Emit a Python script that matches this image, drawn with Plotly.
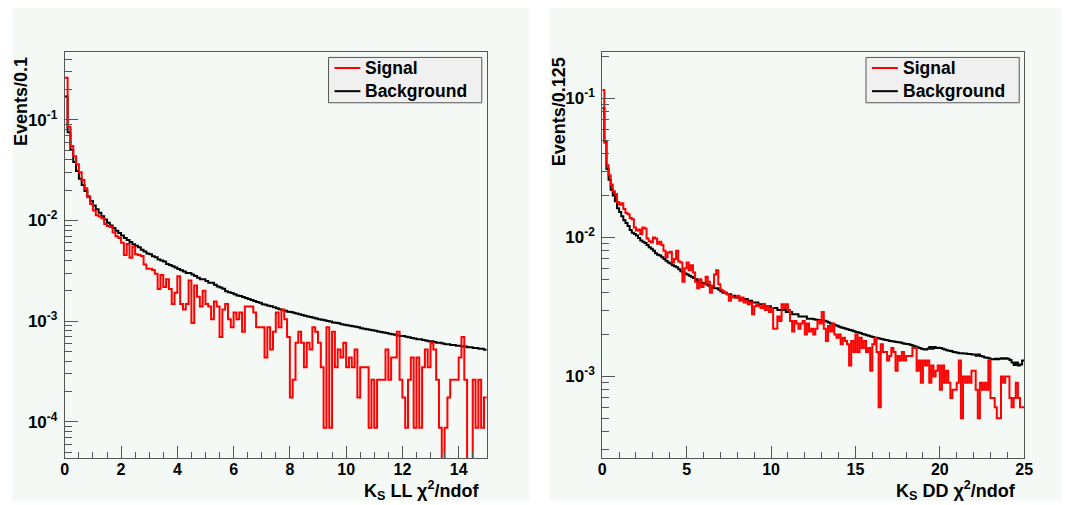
import plotly.graph_objects as go

# bin widths and per-event weights of the signal samples
LL_BIN = 0.1
DD_BIN = 0.125
LL_WEIGHT = 8.7e-5
DD_WEIGHT = 1.0e-4
FLOOR = 1e-7  # empty bins drop out of the log frame

# K_S LL chi2/ndof, 150 bins of 0.1
ll_signal_counts = [
    3000, 980, 630, 500, 415, 345, 290, 240, 195, 167,
    144, 129, 126, 121, 106, 101, 99, 87, 80, 77,
    69, 52, 67, 49, 63, 53, 52, 51, 42, 38,
    38, 37, 34, 24, 33, 25, 30, 24, 17, 22,
    32, 17, 15, 17, 29, 11, 26, 20, 16, 23,
    17, 16, 12, 18, 16, 8, 15, 17, 12, 10,
    14, 12, 14, 9, 16, 16, 16, 14, 10, 10,
    10, 5, 10, 6, 9, 14, 10, 15, 12, 8,
    2, 3, 7, 9, 7, 4, 7, 6, 10, 9,
    7, 4, 1, 10, 1, 9, 4, 6, 5, 7,
    4, 5, 4, 6, 2, 4, 4, 4, 1, 3,
    1, 3, 3, 3, 6, 3, 5, 5, 9, 3,
    2, 1, 3, 5, 1, 5, 1, 4, 6, 4,
    7, 6, 3, 1, 0, 1, 2, 3, 3, 3,
    5, 8, 3, 0, 0, 3, 1, 3, 1, 2,
]
ll_background = [
    0.17, 0.075, 0.050, 0.038, 0.031, 0.026, 0.0225, 0.0196, 0.0173, 0.0156,
    0.0141, 0.0129, 0.0119, 0.0110, 0.0102, 0.0095, 0.0089, 0.0084, 0.0079, 0.0075,
    0.0071, 0.0067, 0.0064, 0.0061, 0.0058, 0.0056, 0.0054, 0.0051, 0.0049, 0.0047,
    0.0046, 0.0044, 0.0043, 0.0041, 0.0040, 0.0039, 0.0037, 0.0036, 0.0035, 0.0034,
    0.0033, 0.0032, 0.0031, 0.0030, 0.0030, 0.0029, 0.0028, 0.0027, 0.0026, 0.0026,
    0.0025, 0.0024, 0.0024, 0.0023, 0.0022, 0.00215, 0.0021, 0.00198, 0.00193, 0.0019,
    0.00185, 0.0018, 0.00177, 0.00173, 0.0017, 0.00166, 0.00162, 0.00158, 0.00155, 0.00152,
    0.00147, 0.00145, 0.00142, 0.0014, 0.00137, 0.00134, 0.00131, 0.00129, 0.00127, 0.00124,
    0.00123, 0.00121, 0.00119, 0.00117, 0.00115, 0.00113, 0.00111, 0.0011, 0.00108, 0.00106,
    0.00104, 0.00103, 0.00102, 0.00100, 0.00099, 0.00097, 0.00096, 0.00095, 0.00093, 0.00092,
    0.00091, 0.0009, 0.00089, 0.00088, 0.00087, 0.00085, 0.00084, 0.00083, 0.00082, 0.00081,
    0.0008, 0.00079, 0.00078, 0.00077, 0.00076, 0.00075, 0.00074, 0.00073, 0.00072, 0.00071,
    0.00071, 0.0007, 0.00069, 0.00068, 0.00067, 0.00066, 0.00066, 0.00065, 0.00064, 0.00063,
    0.00063, 0.00062, 0.00061, 0.00061, 0.0006, 0.00059, 0.00059, 0.00058, 0.00058, 0.00057,
    0.00057, 0.00056, 0.00056, 0.00055, 0.00055, 0.00054, 0.00054, 0.00053, 0.00053, 0.00052,
]

# K_S DD chi2/ndof, 200 bins of 0.125
dd_signal_counts = [
    1150, 480, 330, 280, 240, 215, 205, 180, 172, 176,
    160, 150, 147, 138, 135, 118, 112, 114, 106, 118,
    116, 98, 94, 92, 100, 98, 90, 93, 88, 80,
    72, 78, 79, 66, 70, 80, 67, 66, 48, 60,
    66, 58, 63, 56, 48, 43, 50, 44, 46, 52,
    48, 40, 45, 54, 58, 46, 42, 41, 40, 39,
    35, 38, 37, 37, 38, 35, 37, 34, 35, 33,
    34, 28, 32, 33, 32, 31, 33, 30, 32, 29,
    31, 22, 22, 27, 25, 33, 31, 33, 30, 25,
    21, 25, 24, 22, 24, 25, 20, 24, 21, 22,
    20, 22, 25, 24, 29, 22, 18, 23, 21, 24,
    20, 19, 20, 17, 19, 18, 17, 12, 18, 15,
    20, 15, 19, 16, 18, 15, 16, 11, 17, 19,
    15, 6, 17, 15, 15, 13, 14, 16, 15, 11,
    14, 13, 15, 13, 14, 14, 14, 16, 16, 11,
    13, 9, 13, 12, 13, 9, 12, 10, 11, 12,
    8, 12, 9, 11, 9, 7, 8, 8, 9, 13,
    5, 10, 9, 10, 9, 11, 11, 8, 5, 9,
    8, 9, 8, 13, 7, 7, 6, 5, 5, 10,
    9, 10, 10, 7, 6, 7, 9, 7, 6, 6,
]
dd_background = [
    0.085, 0.049, 0.031, 0.026, 0.022, 0.020, 0.0182, 0.0162, 0.0152, 0.0142,
    0.0133, 0.0127, 0.0121, 0.0113, 0.0108, 0.0106, 0.0103, 0.0099, 0.0095, 0.0093,
    0.0091, 0.0088, 0.0085, 0.0083, 0.0080, 0.0077, 0.0075, 0.0074, 0.0072, 0.0070,
    0.0068, 0.0066, 0.0065, 0.0063, 0.0062, 0.0061, 0.0059, 0.0057, 0.0056, 0.0055,
    0.0054, 0.0053, 0.0052, 0.0051, 0.0050, 0.0049, 0.0048, 0.0047, 0.0047, 0.0046,
    0.0045, 0.0044, 0.0044, 0.0043, 0.0043, 0.0042, 0.0041, 0.0040, 0.0040, 0.0039,
    0.0039, 0.0038, 0.0038, 0.0037, 0.0037, 0.0036, 0.0036, 0.0036, 0.0036, 0.0035,
    0.0035, 0.0034, 0.0034, 0.0034, 0.0033, 0.0033, 0.0033, 0.0032, 0.0032, 0.0032,
    0.0031, 0.0031, 0.0031, 0.0030, 0.0030, 0.0030, 0.0030, 0.0029, 0.0029, 0.0029,
    0.0028, 0.0028, 0.0028, 0.0027, 0.0027, 0.0027, 0.0027, 0.0026, 0.0026, 0.0026,
    0.00258, 0.00256, 0.00255, 0.00253, 0.00252, 0.00251, 0.00248, 0.00244, 0.0024, 0.00237,
    0.00234, 0.00231, 0.00228, 0.00225, 0.00223, 0.0022, 0.00218, 0.00216, 0.00214, 0.00211,
    0.00209, 0.00207, 0.00205, 0.00202, 0.002, 0.00198, 0.00196, 0.00194, 0.00192, 0.0019,
    0.00189, 0.00187, 0.00186, 0.00184, 0.00183, 0.00182, 0.0018, 0.00179, 0.00178, 0.00177,
    0.00176, 0.00175, 0.00173, 0.00172, 0.00171, 0.0017, 0.00168, 0.00166, 0.00164, 0.00162,
    0.0016, 0.00158, 0.00157, 0.00156, 0.00158, 0.00163, 0.00158, 0.00163, 0.0016, 0.00161,
    0.0016, 0.00158, 0.00156, 0.00154, 0.00153, 0.00152, 0.0015, 0.00149, 0.00148, 0.00147,
    0.00147, 0.00146, 0.00146, 0.00145, 0.00145, 0.00144, 0.00144, 0.00141, 0.00144, 0.0014,
    0.00139, 0.00137, 0.00136, 0.00135, 0.00133, 0.00133, 0.00134, 0.00133, 0.00134, 0.00135,
    0.00134, 0.00135, 0.00134, 0.00131, 0.00126, 0.00121, 0.00126, 0.0012, 0.00122, 0.0013,
]

W, H = 1070, 505
OFF = 8                # page margin around the figure
SCALE = 1070 / 1078    # page is shrunk to fit the window
PAD = "#f5f9f6"
FRAME = "#555555"
FONT = "Liberation Sans, Arial, sans-serif"


def steps(values, width):
    edges = [round(i * width, 4) for i in range(len(values) + 1)]
    return edges, list(values) + [values[-1]]


def weighted(counts, weight):
    return [c * weight if c > 0 else FLOOR for c in counts]


# screen pixel -> paper fraction
def px(x):
    return (x / SCALE - OFF) / W


def py(y):
    return 1 - (y / SCALE - OFF) / H


fig = go.Figure()

panels = [
    dict(xa="x", ya="y", width=LL_BIN, sig=weighted(ll_signal_counts, LL_WEIGHT), bkg=ll_background),
    dict(xa="x2", ya="y2", width=DD_BIN, sig=weighted(dd_signal_counts, DD_WEIGHT), bkg=dd_background),
]
for p in panels:
    for vals, col in ((p["bkg"], "black"), (p["sig"], "#ff0000")):
        xs, ys = steps(vals, p["width"])
        fig.add_trace(go.Scatter(
            x=xs, y=ys, mode="lines", line=dict(color=col, width=2, shape="hv"),
            xaxis=p["xa"], yaxis=p["ya"], showlegend=False, hoverinfo="skip",
        ))

minor_log = [m * 10.0 ** e for e in range(-5, 1) for m in range(2, 10)]
tick_font = dict(family=FONT, size=16, color="black", weight="bold")
common_x = dict(
    showgrid=False, zeroline=False, showline=True, mirror=True,
    linecolor=FRAME, linewidth=1, ticks="inside", ticklen=12, tickwidth=1,
    tickcolor=FRAME, tickfont=tick_font, tick0=0, ticklabelstandoff=-4,
)
common_y = dict(
    type="log", showgrid=False, zeroline=False, showline=True, mirror=True,
    linecolor=FRAME, linewidth=1, ticks="inside", ticklen=13, tickwidth=1,
    tickcolor=FRAME, tickfont=dict(tick_font, size=17), tickmode="array",
    tickvals=[1e-4, 1e-3, 1e-2, 1e-1],
    ticktext=["10<sup>-4</sup>", "10<sup>-3</sup>", "10<sup>-2</sup>", "10<sup>-1</sup>"],
    minor=dict(tickmode="array", tickvals=minor_log, ticks="inside", ticklen=7,
               tickcolor=FRAME, tickwidth=1),
    ticklabelstandoff=3,
)

fig.update_layout(
    width=W, height=H,
    margin=dict(l=0, r=0, t=0, b=0),
    paper_bgcolor="white", plot_bgcolor=PAD,
    font=dict(family=FONT, color="black"),
    xaxis=dict(domain=[px(61), px(485)], range=[0, 15], dtick=2,
               minor=dict(dtick=0.5, ticks="inside", ticklen=6, tickcolor=FRAME), anchor="y",
               **common_x),
    yaxis=dict(domain=[py(455), py(52)], range=[-4.364, -0.331], anchor="x", **common_y),
    xaxis2=dict(domain=[px(601), px(1025)], range=[0, 25], dtick=5,
                minor=dict(dtick=1, ticks="inside", ticklen=6, tickcolor=FRAME), anchor="y2",
                **common_x),
    yaxis2=dict(domain=[py(455), py(52)], range=[-3.59, -0.669], anchor="x2", **common_y),
)

shapes = []
annotations = []

# pads behind each frame
for x0, x1 in ((8, 528), (548, 1062)):
    shapes.append(dict(type="rect", xref="paper", yref="paper", layer="below",
                       x0=px(x0), x1=px(x1), y0=py(497), y1=py(8),
                       fillcolor=PAD, line=dict(width=0)))

# legends
for lx0, lx1 in ((326, 480), (866, 1020)):
    shapes.append(dict(type="rect", xref="paper", yref="paper",
                       x0=px(lx0), x1=px(lx1), y0=py(102), y1=py(57),
                       fillcolor="#f0f0f0", line=dict(color=FRAME, width=1)))
    for yy, col, name in ((67.5, "#ff0000", "Signal"), (90.5, "black", "Background")):
        shapes.append(dict(type="line", xref="paper", yref="paper",
                           x0=px(lx0 + 6), x1=px(lx0 + 32), y0=py(yy), y1=py(yy),
                           line=dict(color=col, width=2)))
        annotations.append(dict(text=name, xref="paper", yref="paper", x=px(lx0 + 35), y=py(yy),
                                xanchor="left", yanchor="middle", showarrow=False,
                                font=dict(family=FONT, size=17.5, color="black", weight="bold")))

# axis titles
title_font = dict(family=FONT, size=18, color="black", weight="bold")
for tx, ytext in ((17, "Events/0.1"), (557, "Events/0.125")):
    annotations.append(dict(text=ytext, xref="paper", yref="paper", x=px(tx), y=py(55),
                            xanchor="center", yanchor="top", textangle=-90, showarrow=False,
                            font=title_font))
for tx, xtext in ((479, "K<sub>S</sub> LL χ<sup>2</sup>/ndof"), (1019, "K<sub>S</sub> DD χ<sup>2</sup>/ndof")):
    annotations.append(dict(text=xtext, xref="paper", yref="paper", x=px(tx), y=py(487),
                            xanchor="right", yanchor="middle", showarrow=False,
                            font=title_font))

fig.update_layout(shapes=shapes, annotations=annotations)

fig.write_html("out.html")
